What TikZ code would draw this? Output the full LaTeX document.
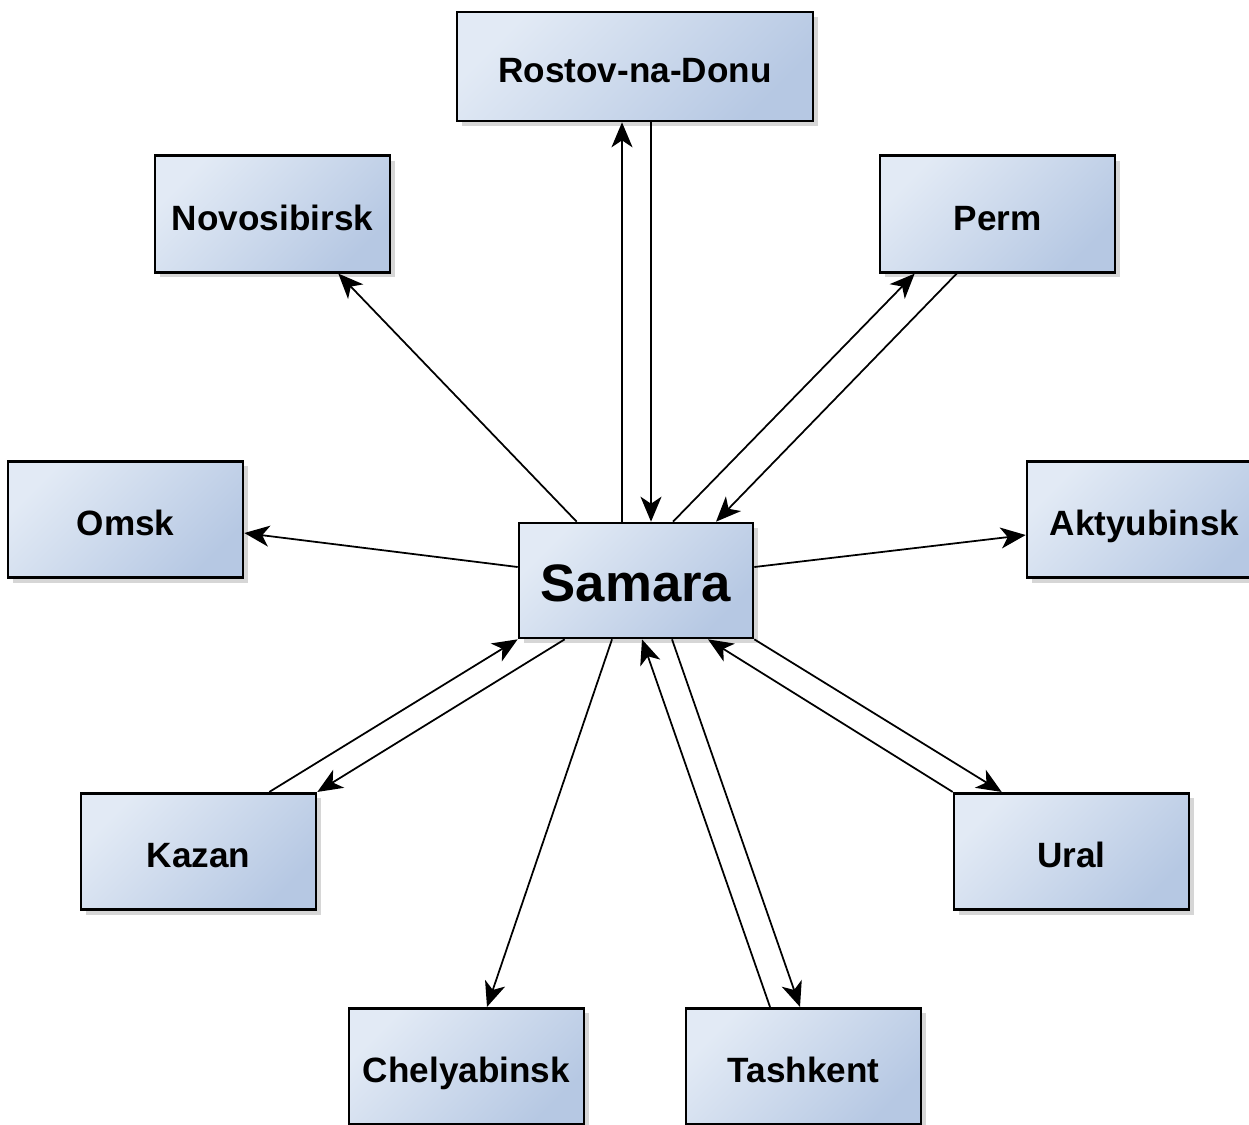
\documentclass[tikz,border=0pt]{standalone}
\usepackage{fontspec}
\setmainfont{Liberation Sans}
\usepackage{xcolor}
\usetikzlibrary{arrows.meta,shadows}
\definecolor{cityfill}{HTML}{E2EAF5}
\definecolor{cityshade}{HTML}{B6C8E3}

\begin{document}
\begin{tikzpicture}[
    box/.style={draw, line width=1.5pt, shading=axis, top color=cityfill, bottom color=cityshade, shading angle=45,
      drop shadow={shadow xshift=0.1cm, shadow yshift=-0.1cm, fill=black!40, opacity=0.4},
      minimum width=4.7cm, minimum height=2.33cm, align=center, text height=18.4pt, text depth=0pt,
      font=\bfseries\fontsize{20}{23}\selectfont},
    arrow/.style={-{Stealth[length=5mm, width=4.2mm, inset=1.4mm]}, line width=1pt, draw=black}
  ]
    \useasboundingbox (0,0) rectangle (24.98,-22.48);
    \node[box, minimum width=7.12cm, minimum height=2.18cm] (rostov) at (12.70,-1.33) {Rostov-na-Donu};
    \node[box] (novosibirsk) at (5.45,-4.28) {Novosibirsk};
    \node[box] (perm) at (19.95,-4.28) {Perm};
    \node[box] (omsk) at (2.51,-10.39) {Omsk};
    \node[box] (aktyubinsk) at (22.89,-10.39) {Aktyubinsk};
    \node[box, minimum width=4.68cm, minimum height=2.3cm, text height=24.4pt,
      font=\bfseries\fontsize{30}{35}\selectfont] (samara) at (12.72,-11.61) {Samara};
    \node[box] (kazan) at (3.97,-17.03) {Kazan};
    \node[box] (ural) at (21.43,-17.03) {Ural};
    \node[box] (chelyabinsk) at (9.33,-21.33) {Chelyabinsk};
    \node[box] (tashkent) at (16.07,-21.33) {Tashkent};
    \path[arrow] ([xshift=-0.28cm]samara.north) -- ([xshift=-0.26cm]rostov.south);
    \path[arrow] ([xshift=0.32cm]rostov.south) -- ([xshift=0.30cm]samara.north);
    \path[arrow] ([xshift=1.18cm]samara.north west) -- ([xshift=-1.06cm]novosibirsk.south east);
    \path[arrow] ([xshift=0.74cm]samara.north) -- ([xshift=0.72cm]perm.south west);
    \path[arrow] ([xshift=1.56cm]perm.south west) -- ([xshift=1.60cm]samara.north);
    \path[arrow] ([yshift=0.27cm]samara.west) -- ([yshift=-0.27cm]omsk.east);
    \path[arrow] ([yshift=0.27cm]samara.east) -- ([yshift=-0.31cm]aktyubinsk.west);
    \path[arrow] ([xshift=-0.96cm]kazan.north east) -- (samara.south west);
    \path[arrow] ([xshift=0.94cm]samara.south west) -- (kazan.north east);
    \path[arrow] ([xshift=-0.48cm]samara.south) -- ([xshift=0.41cm]chelyabinsk.north);
    \path[arrow] ([xshift=-0.67cm]tashkent.north) -- ([xshift=0.12cm]samara.south);
    \path[arrow] ([xshift=0.72cm]samara.south) -- ([xshift=-0.07cm]tashkent.north);
    \path[arrow] (ural.north west) -- ([xshift=1.44cm]samara.south);
    \path[arrow] (samara.south east) -- ([xshift=0.98cm]ural.north west);
  \end{tikzpicture}
\end{document}
